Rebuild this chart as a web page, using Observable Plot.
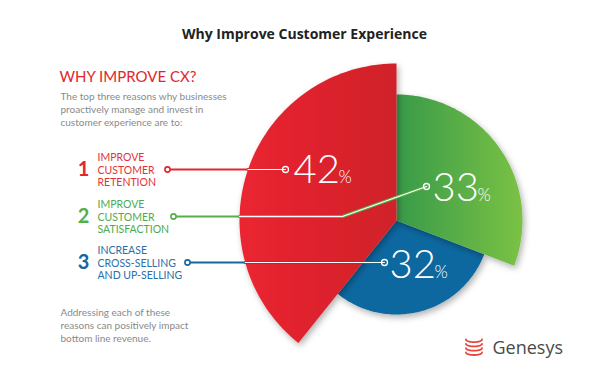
<!DOCTYPE html>
<html><head><meta charset="utf-8">
<script src="https://cdn.jsdelivr.net/npm/d3@7"></script>
<script src="https://cdn.jsdelivr.net/npm/@observablehq/plot@0.6"></script>
<style>body{margin:0;background:#fff} #chart svg{display:block}</style>
</head><body><div id="chart"></div>
<script>
// ---- data ----
const categories = ["Improve customer retention", "Improve customer satisfaction", "Increase cross-selling and up-selling"];
const values = [42, 33, 32];
const itemNumbers = ["1", "2", "3"];
const itemLabels = ["IMPROVE\nCUSTOMER\nRETENTION", "IMPROVE\nCUSTOMER\nSATISFACTION", "INCREASE\nCROSS-SELLING\nAND UP-SELLING"];
const title = "Why Improve Customer Experience";
const heading = "WHY IMPROVE CX?";
const intro = "The top three reasons why businesses\nproactively manage and invest in\ncustomer experience are to:";
const outro = "Addressing each of these\nreasons can positively impact\nbottom line revenue.";
const brand = "Genesys";

// ---- layout / style ----
const W = 600, H = 369, cx = 396, cy = 220;
const wedgeRadius = [157, 126, 94];
const pieOrder = [1, 2, 0];           // clockwise from 12 o'clock: green, blue, red
const drawOrder = [2, 1, 0];          // blue, green, red on top
const fills = ["url(#gRed)", "url(#gGreen)", "#0d68a0"];
const lineColors = ["#e3262e", "#56ae47", "#17659f"];
const textColors = ["#e2333a", "#4eaa4d", "#2c6ea7"];
const rowY = [169, 216, 262];
const leaderStartX = [167, 173, 187];
const leaderEnds = [[[285, 169]], [[342, 216], [426, 186]], [[384, 262]]];
const pctX = [293, 432, 389], pctY = [182, 200, 277], pctGap = 45;
const F = "Lato, 'Open Sans', sans-serif";

// wedges from pie layout
const arcs = d3.pie().sort(null).value(i => values[i])(pieOrder);
const wedgePts = [];
for (const a of arcs) {
  const i = a.data, r = wedgeRadius[i], n = 90;
  wedgePts.push({i, x: cx, y: cy});
  for (let k = 0; k <= n; ++k) {
    const t = a.startAngle + (a.endAngle - a.startAngle) * k / n;
    wedgePts.push({i, x: cx + r * Math.sin(t), y: cy - r * Math.cos(t)});
  }
  wedgePts.push({i, x: cx, y: cy});
}

// leader lines: outside part coloured, inside part white with coloured edge
const outerPts = [], innerPts = [];
categories.forEach((c, i) => {
  const y0 = rowY[i], dy = y0 - cy;
  const xEdge = cx - Math.sqrt(wedgeRadius[0] ** 2 - dy ** 2);
  outerPts.push({i, x: leaderStartX[i], y: y0}, {i, x: xEdge, y: y0});
  innerPts.push({i, x: xEdge, y: y0});
  leaderEnds[i].forEach(([x, y]) => innerPts.push({i, x, y}));
});
const endDots = categories.map((c, i) => {const e = leaderEnds[i][leaderEnds[i].length - 1]; return {i, x: e[0], y: e[1]};});

// logo rings
const ringPts = [];
for (let k = 0; k < 4; ++k) for (let s = 0; s <= 30; ++s) {
  const t = Math.PI * s / 30;
  ringPts.push({k, x: 473.5 - 8 * Math.cos(t), y: 339 + k * 4.3 + 2.6 * Math.sin(t)});
}

const idx = [0, 1, 2];
const plot = Plot.plot({
  width: W, height: H, margin: 0,
  x: {domain: [0, W], range: [0, W], axis: null},
  y: {domain: [0, H], range: [0, H], axis: null},
  marks: [
    ...drawOrder.map(i => Plot.line(wedgePts.filter(d => d.i === i), {x: "x", y: "y", fill: fills[i], stroke: "none", curve: "linear"})),
    ...idx.map(i => Plot.line(outerPts.filter(d => d.i === i), {x: "x", y: "y", stroke: lineColors[i], strokeWidth: 2})),
    ...idx.map(i => Plot.line(innerPts.filter(d => d.i === i), {x: "x", y: "y", stroke: lineColors[i], strokeWidth: 3})),
    ...idx.map(i => Plot.line(innerPts.filter(d => d.i === i), {x: "x", y: "y", stroke: "white", strokeWidth: 1.2})),
    Plot.dot(idx, {x: i => leaderStartX[i], y: i => rowY[i], r: 2.6, fill: "white", stroke: i => lineColors[i], strokeWidth: 1.6}),
    Plot.dot(endDots, {x: "x", y: "y", r: 3, fill: "none", stroke: "white", strokeWidth: 1.3}),
    Plot.text(idx, {x: i => pctX[i], y: i => pctY[i], text: i => String(values[i]), fill: "white", fontSize: 40, fontWeight: 300, fontFamily: F, textAnchor: "start", lineAnchor: "bottom"}),
    Plot.text(idx, {x: i => pctX[i] + pctGap, y: i => pctY[i], text: () => "%", fill: "white", fontSize: 17, fontWeight: 300, fontFamily: F, textAnchor: "start", lineAnchor: "bottom"}),
    Plot.text([title], {x: 304, y: 38, text: d => d, fill: "#222", fontSize: 14, fontWeight: 700, fontFamily: "'Open Sans', sans-serif", lineAnchor: "bottom"}),
    Plot.text([heading], {x: 59, y: 81, text: d => d, fill: "#e2262d", fontSize: 15, fontWeight: 400, fontFamily: F, textAnchor: "start", lineAnchor: "bottom"}),
    Plot.text([intro], {x: 60, y: 108, text: d => d, fill: "#8a8a8a", fontSize: 10, fontFamily: F, textAnchor: "start", lineAnchor: "middle", lineHeight: 1.3}),
    Plot.text(idx, {x: 83, y: i => rowY[i] + 6, text: i => itemNumbers[i], fill: i => lineColors[i], fontSize: 20, fontWeight: 700, fontFamily: F, textAnchor: "middle", lineAnchor: "bottom"}),
    Plot.text(idx, {x: 97, y: i => rowY[i], text: i => itemLabels[i], fill: i => textColors[i], fontSize: 10.5, fontFamily: F, textAnchor: "start", lineAnchor: "middle", lineHeight: 1.2}),
    Plot.text([outro], {x: 60, y: 324, text: d => d, fill: "#8a8a8a", fontSize: 10, fontFamily: F, textAnchor: "start", lineAnchor: "middle", lineHeight: 1.3}),
    ...[0, 1, 2, 3].map(k => Plot.line(ringPts.filter(d => d.k === k), {x: "x", y: "y", stroke: "#e8453c", strokeWidth: 1.8})),
    Plot.text([brand], {x: 492, y: 353, text: d => d, fill: "#4a4a4a", fontSize: 18, fontFamily: "'Open Sans', sans-serif", textAnchor: "start", lineAnchor: "bottom"})
  ]
});

// gradients and shadow
const svg = d3.select(plot);
const defs = svg.insert("defs", ":first-child");
const gR = defs.append("linearGradient").attr("id", "gRed");
gR.append("stop").attr("offset", "0%").attr("stop-color", "#eb2531");
gR.append("stop").attr("offset", "100%").attr("stop-color", "#cf2129");
const gG = defs.append("linearGradient").attr("id", "gGreen");
gG.append("stop").attr("offset", "0%").attr("stop-color", "#389a48");
gG.append("stop").attr("offset", "100%").attr("stop-color", "#7bc244");
const f = defs.append("filter").attr("id", "sh").attr("x", "-20%").attr("y", "-20%").attr("width", "150%").attr("height", "150%");
f.append("feDropShadow").attr("dx", 2).attr("dy", 3).attr("stdDeviation", 3).attr("flood-color", "#000").attr("flood-opacity", 0.3);
svg.selectAll("g").filter(function() {
  const fl = this.getAttribute("fill");
  return fl && (fl.startsWith("url(#g") || fl === fills[2]);
}).attr("filter", "url(#sh)");

document.getElementById("chart").appendChild(plot);
</script></body></html>
